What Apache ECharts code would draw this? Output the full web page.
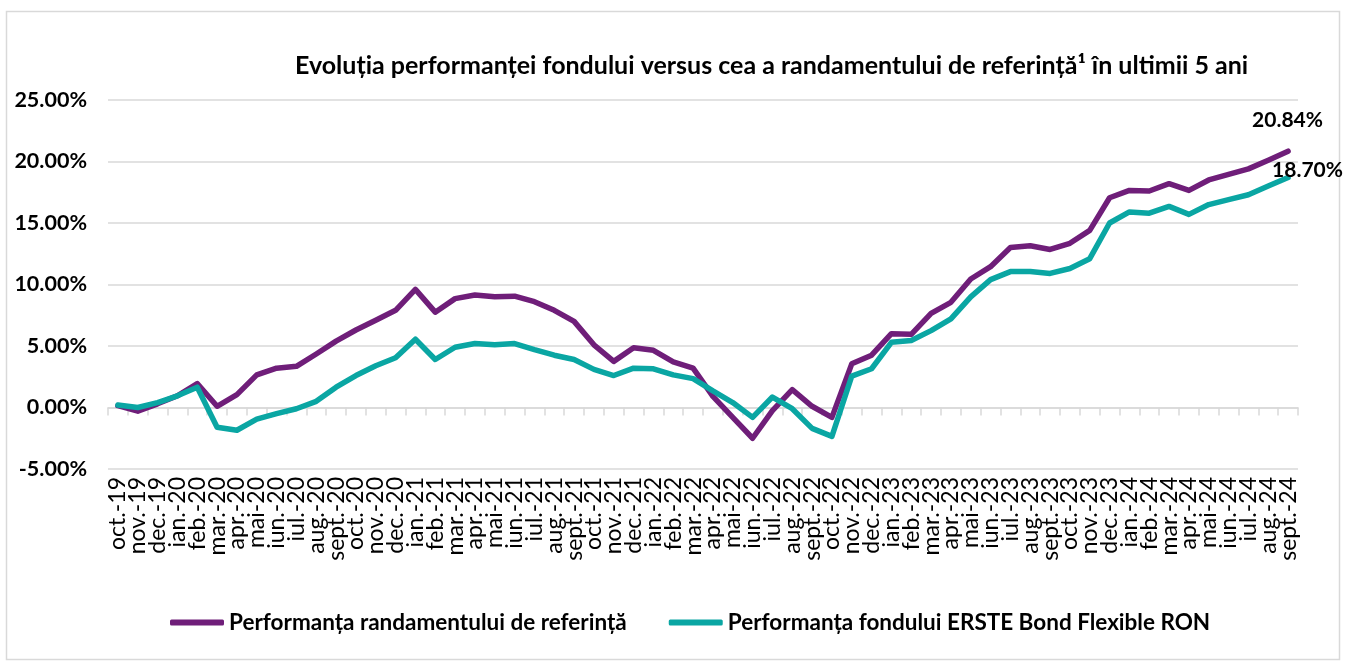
<!DOCTYPE html>
<html>
<head>
<meta charset="utf-8">
<title>Evoluția performanței fondului</title>
<script src="https://cdn.jsdelivr.net/npm/echarts@6/dist/echarts.min.js"></script>
<style>
  html, body { margin: 0; padding: 0; background: #fff; }
  #chart { width: 1346px; height: 663px; }
</style>
</head>
<body>
<div id="chart"></div>
<script>
// luni (axa X)
const categories = [
  'oct.-19', 'nov.-19', 'dec.-19',
  'ian.-20', 'feb.-20', 'mar.-20', 'apr.-20', 'mai-20', 'iun.-20', 'iul.-20', 'aug.-20', 'sept.-20', 'oct.-20', 'nov.-20', 'dec.-20',
  'ian.-21', 'feb.-21', 'mar.-21', 'apr.-21', 'mai-21', 'iun.-21', 'iul.-21', 'aug.-21', 'sept.-21', 'oct.-21', 'nov.-21', 'dec.-21',
  'ian.-22', 'feb.-22', 'mar.-22', 'apr.-22', 'mai-22', 'iun.-22', 'iul.-22', 'aug.-22', 'sept.-22', 'oct.-22', 'nov.-22', 'dec.-22',
  'ian.-23', 'feb.-23', 'mar.-23', 'apr.-23', 'mai-23', 'iun.-23', 'iul.-23', 'aug.-23', 'sept.-23', 'oct.-23', 'nov.-23', 'dec.-23',
  'ian.-24', 'feb.-24', 'mar.-24', 'apr.-24', 'mai-24', 'iun.-24', 'iul.-24', 'aug.-24', 'sept.-24'
]

// performanta randamentului de referinta (%)
const referinta = [
  0.15, -0.3, 0.3, 0.95, 1.95, 0.1, 1.05, 2.65, 3.2, 3.35, 4.35, 5.4,
  6.3, 7.1, 7.9, 9.6, 7.75, 8.85, 9.15, 9.0, 9.05, 8.6, 7.9, 7.0,
  5.1, 3.75, 4.85, 4.65, 3.7, 3.2, 0.9, -0.8, -2.5, -0.25, 1.45, 0.1,
  -0.8, 3.55, 4.25, 6.0, 5.95, 7.65, 8.55, 10.45, 11.45, 13.0, 13.15, 12.85,
  13.35, 14.4, 17.05, 17.65, 17.6, 18.2, 17.65, 18.5, 18.95, 19.4, 20.1, 20.84
]

// performanta fondului ERSTE Bond Flexible RON (%)
const fond = [
  0.2, 0.0, 0.4, 0.95, 1.65, -1.6, -1.85, -0.95, -0.5, -0.1, 0.5, 1.65,
  2.6, 3.4, 4.05, 5.55, 3.9, 4.9, 5.2, 5.1, 5.2, 4.7, 4.25, 3.9,
  3.1, 2.6, 3.2, 3.15, 2.65, 2.35, 1.35, 0.4, -0.8, 0.85, -0.1, -1.7,
  -2.35, 2.55, 3.15, 5.3, 5.45, 6.25, 7.2, 9.0, 10.4, 11.05, 11.05, 10.9,
  11.3, 12.1, 15.0, 15.9, 15.8, 16.35, 15.7, 16.5, 16.9, 17.3, 18.0, 18.7
]

const seriesNames = ['Performanța randamentului de referință', 'Performanța fondului ERSTE Bond Flexible RON']
const yTicks = { min: -5, max: 25, interval: 5 }

const font = 'Lato, "Liberation Sans", sans-serif'
const gridColor = '#d9d9d9'

const chart = echarts.init(document.getElementById('chart'))

chart.setOption({
  animation: false,
  textStyle: { fontFamily: font },
  color: ['#6f1e79', '#0aa6a3'],
  graphic: [{
    type: 'rect',
    shape: { x: 6.5, y: 11.5, width: 1333, height: 648 },
    style: { fill: 'none', stroke: gridColor, lineWidth: 1.5 },
    silent: true
  }],
  title: {
    text: 'Evoluția performanței fondului versus cea a randamentului de referință¹ în ultimii 5 ani',
    left: 290,
    top: 48,
    textStyle: { fontFamily: font, fontSize: 25, fontWeight: 'bold', color: '#000' }
  },
  legend: {
    left: 165,
    top: 606,
    icon: 'roundRect',
    itemWidth: 54,
    itemHeight: 6,
    itemGap: 42,
    textStyle: { fontFamily: font, fontSize: 22.5, fontWeight: 'bold', color: '#000' },
    data: seriesNames
  },
  grid: { left: 108, right: 48, top: 100, bottom: 194 },
  xAxis: [
    {
      type: 'category',
      data: categories,
      boundaryGap: true,
      axisLine: { show: false, onZero: false },
      axisTick: { show: false },
      axisLabel: {
        interval: 0,
        rotate: 90,
        margin: 8,
        fontFamily: font,
        fontSize: 23,
        color: '#000'
      }
    },
    {
      type: 'category',
      data: categories,
      position: 'bottom',
      boundaryGap: true,
      axisLine: { show: true, onZero: true, lineStyle: { color: gridColor, width: 1.5 } },
      axisTick: { show: true, interval: 0, length: 8, lineStyle: { color: gridColor, width: 1.5 } },
      axisLabel: { show: false }
    }
  ],
  yAxis: {
    type: 'value',
    min: yTicks.min,
    max: yTicks.max,
    interval: yTicks.interval,
    axisLine: { show: false },
    axisTick: { show: false },
    splitLine: { lineStyle: { color: gridColor, width: 1.5 } },
    axisLabel: {
      margin: 21,
      fontFamily: font,
      fontSize: 21.5,
      fontWeight: 'bold',
      color: '#000',
      formatter: v => v.toFixed(2) + '%'
    }
  },
  series: [
    {
      name: seriesNames[0],
      type: 'line',
      data: referinta,
      symbol: 'none',
      lineStyle: { width: 5.5, cap: 'round', join: 'round' },
      endLabel: {
        show: true,
        distance: 0,
        offset: [-36, -31],
        fontFamily: font,
        fontSize: 21,
        fontWeight: 'bold',
        color: '#000',
        formatter: p => p.value.toFixed(2) + '%'
      }
    },
    {
      name: seriesNames[1],
      type: 'line',
      data: fond,
      symbol: 'none',
      lineStyle: { width: 5.5, cap: 'round', join: 'round' },
      endLabel: {
        show: true,
        distance: 0,
        offset: [-16, -7],
        fontFamily: font,
        fontSize: 21,
        fontWeight: 'bold',
        color: '#000',
        formatter: p => p.value.toFixed(2) + '%'
      }
    }
  ]
})
</script>
</body>
</html>
